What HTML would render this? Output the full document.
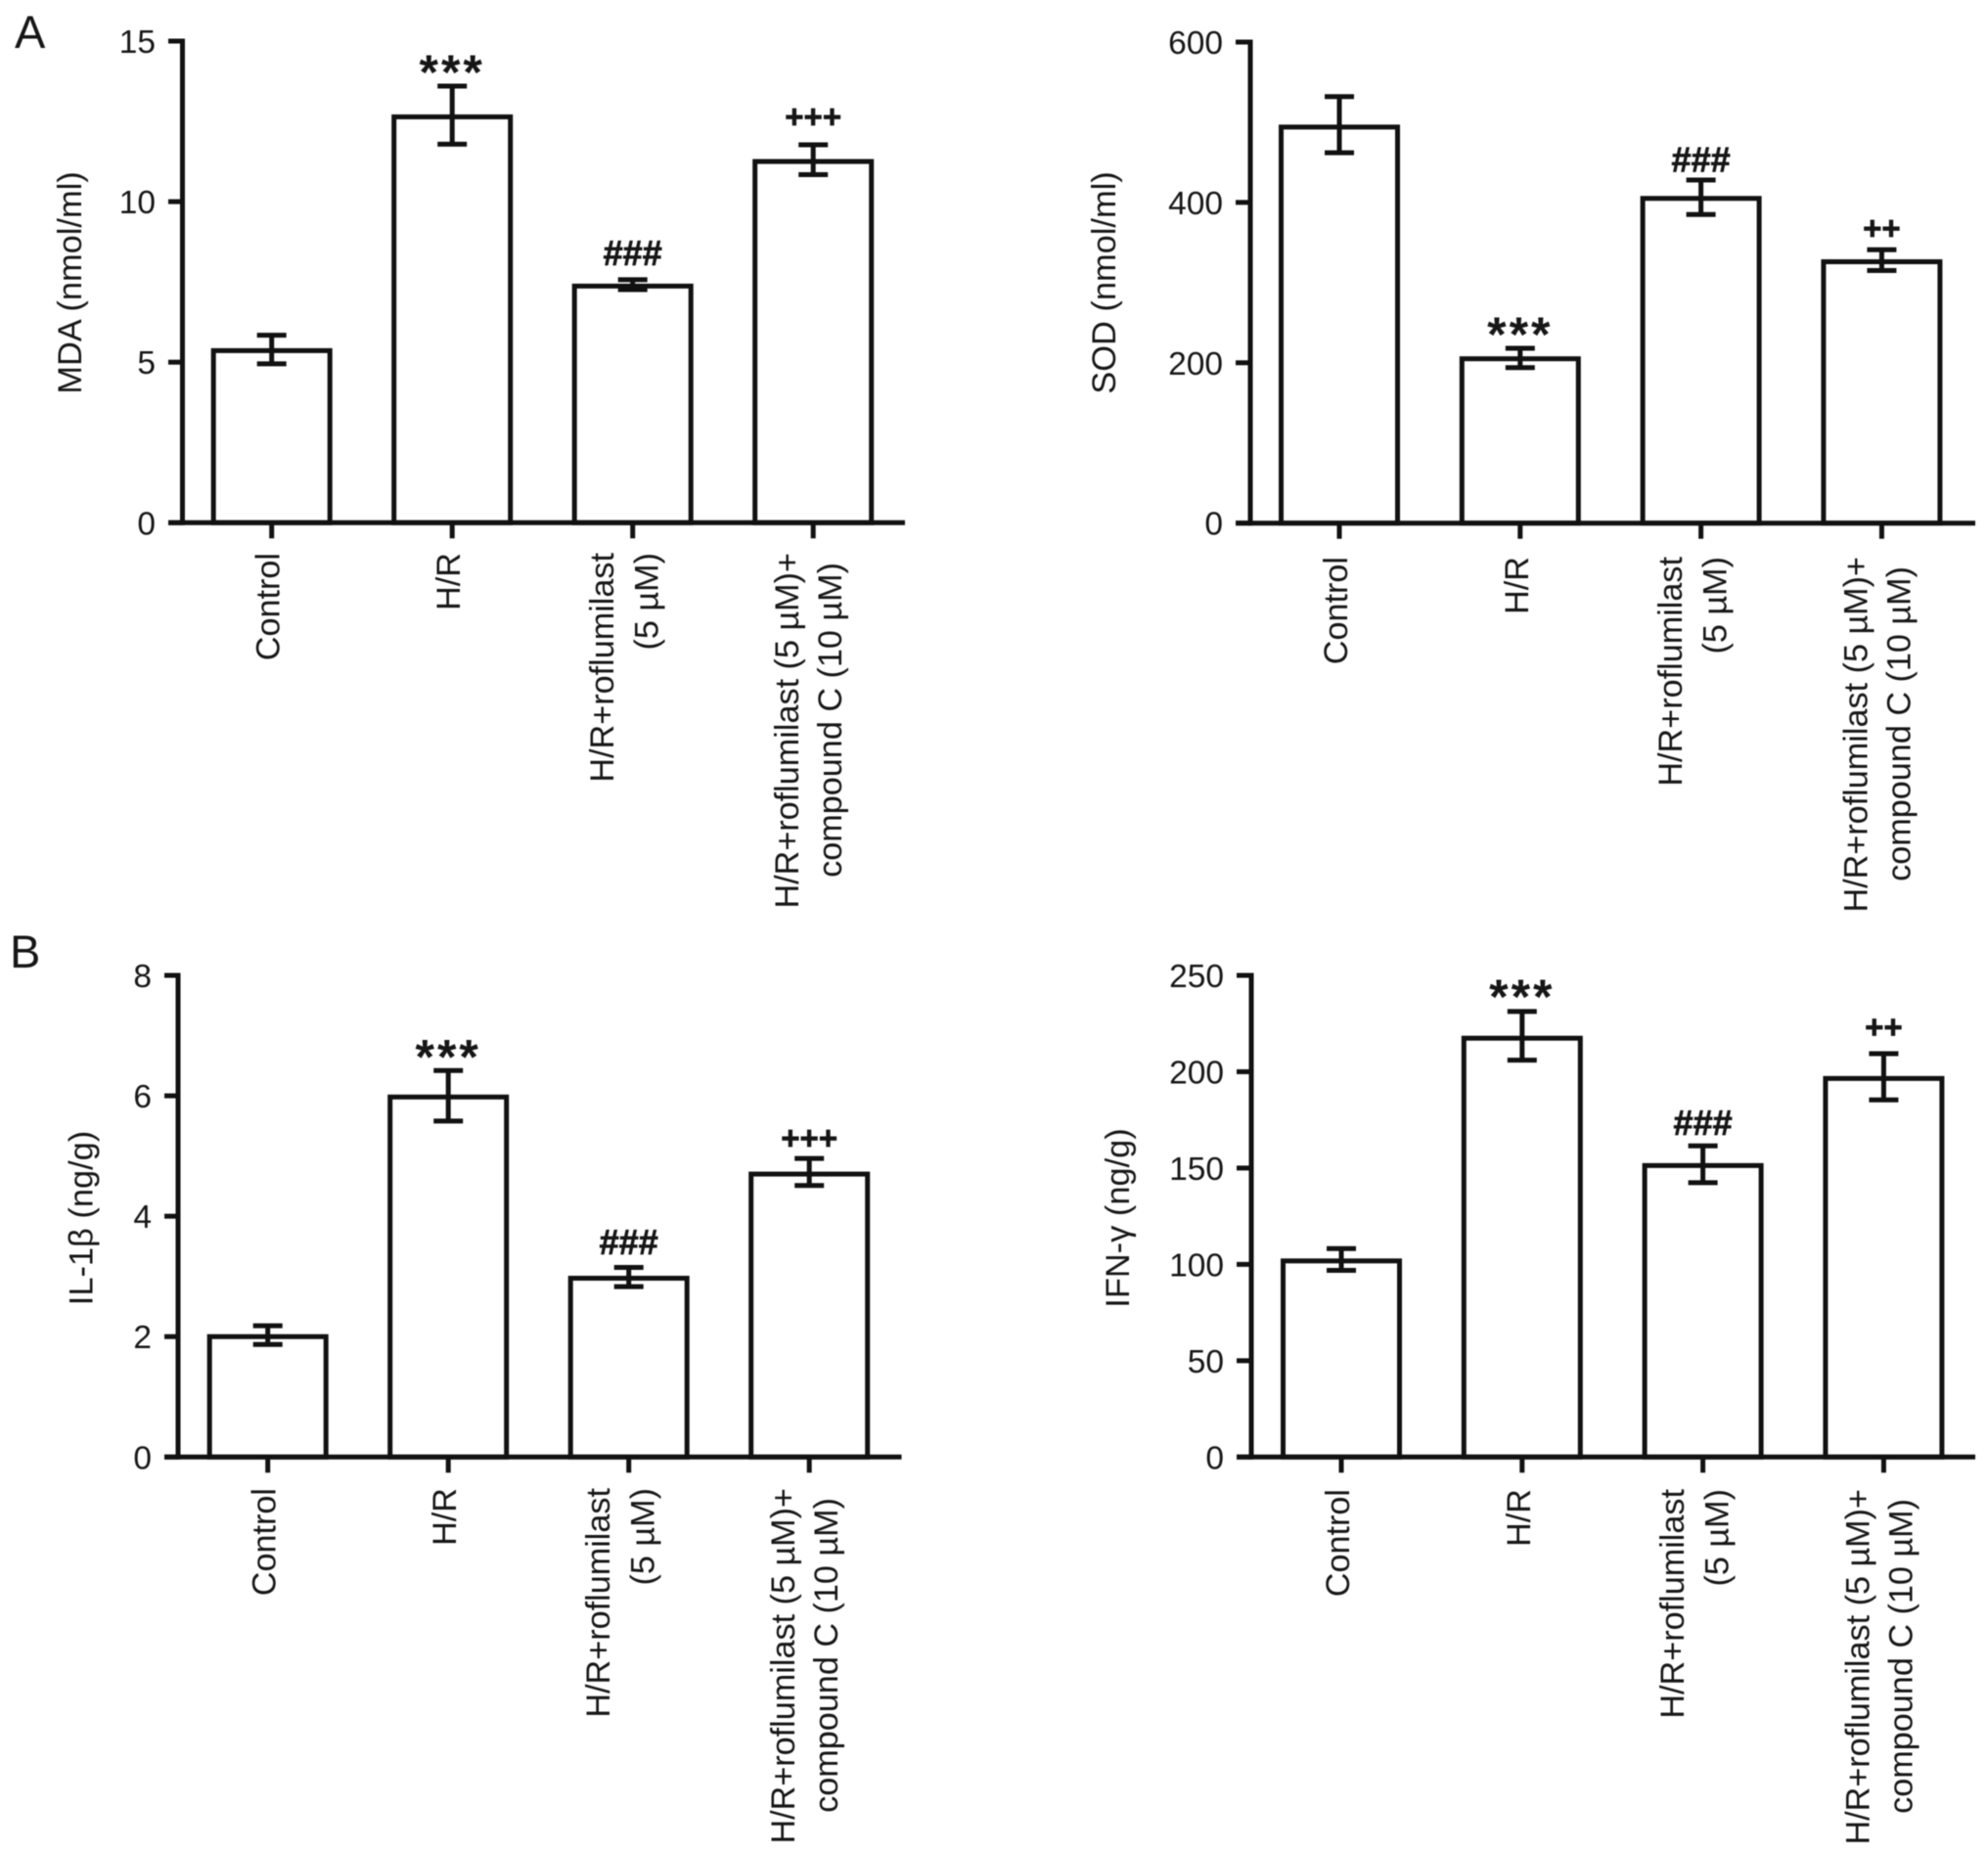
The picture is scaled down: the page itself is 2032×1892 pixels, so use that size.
<!DOCTYPE html>
<html lang="en">
<head>
<meta charset="utf-8">
<title>Oxidative stress and inflammatory markers</title>
<style>
html,body{margin:0;padding:0;background:#fff;width:2032px;height:1892px;overflow:hidden}
svg{display:block;filter:blur(0.5px)}
text{font-family:"Liberation Sans",Arial,sans-serif;fill:#161616}
</style>
</head>
<body>
<svg id="figure" xmlns="http://www.w3.org/2000/svg" width="2032" height="1892" viewBox="0 0 2032 1892">
<rect width="2032" height="1892" fill="#fff"/>
<text x="15" y="49" font-size="47">A</text>
<text x="10" y="989" font-size="47">B</text>
</svg>
<script>
const categoryLabels = [
  ["Control"],
  ["H/R"],
  ["H/R+roflumilast", "(5 µM)"],
  ["H/R+roflumilast (5 µM)+", "compound C (10 µM)"]
];

const mdaValues = [5.36, 12.64, 7.37, 11.25];
const mdaUpper = [5.84, 13.6, 7.57, 11.77];
const mdaLower = [4.95, 11.79, 7.26, 10.84];
const mdaTicks = [0, 5, 10, 15];
const mdaMarks = ["", "***", "###", "+++"];
const mdaMarkLevels = [0, 14.4, 8.39, 12.64];

const sodValues = [494, 205, 405, 326];
const sodUpper = [532, 218, 428, 341];
const sodLower = [462, 194, 385, 315];
const sodTicks = [0, 200, 400, 600];
const sodMarks = ["", "***", "###", "++"];
const sodMarkLevels = [0, 250, 453.5, 367.7];

const il1bValues = [2.0, 5.98, 2.97, 4.7];
const il1bUpper = [2.18, 6.42, 3.15, 4.96];
const il1bLower = [1.87, 5.58, 2.83, 4.51];
const il1bTicks = [0, 2, 4, 6, 8];
const il1bMarks = ["", "***", "###", "+++"];
const il1bMarkLevels = [0, 6.84, 3.57, 5.3];

const ifnValues = [101.8, 217.4, 151.3, 196.5];
const ifnUpper = [108.2, 231.3, 161.5, 209.4];
const ifnLower = [96.9, 206, 142.4, 185.4];
const ifnTicks = [0, 50, 100, 150, 200, 250];
const ifnMarks = ["", "***", "###", "++"];
const ifnMarkLevels = [0, 245, 173.4, 223.3];

const panels = [
  {id:"mda", title:"MDA (nmol/ml)", values:mdaValues, upper:mdaUpper, lower:mdaLower, ticks:mdaTicks, marks:mdaMarks, levels:mdaMarkLevels,
   axisX:186.5, yTop:42, yBottom:534.3, xLeft:172, xRight:925, first:277.7, step:184.5, titleX:83, titleY:289, labelTop:565},
  {id:"sod", title:"SOD (nmol/ml)", values:sodValues, upper:sodUpper, lower:sodLower, ticks:sodTicks, marks:sodMarks, levels:sodMarkLevels,
   axisX:1278, yTop:43, yBottom:534.7, xLeft:1263, xRight:2019, first:1369, step:184.8, titleX:1140, titleY:289, labelTop:569},
  {id:"il-1b", title:"IL-1β (ng/g)", values:il1bValues, upper:il1bUpper, lower:il1bLower, ticks:il1bTicks, marks:il1bMarks, levels:il1bMarkLevels,
   axisX:182, yTop:997, yBottom:1489.3, xLeft:168, xRight:921.5, first:273.7, step:184.5, titleX:94.5, titleY:1245, labelTop:1521},
  {id:"ifn-g", title:"IFN-γ (ng/g)", values:ifnValues, upper:ifnUpper, lower:ifnLower, ticks:ifnTicks, marks:ifnMarks, levels:ifnMarkLevels,
   axisX:1279, yTop:997, yBottom:1489.3, xLeft:1264, xRight:2019, first:1371, step:184.8, titleX:1154, titleY:1245, labelTop:1522}
];

const svgNS = "http://www.w3.org/2000/svg";
const figure = document.getElementById("figure");
const INK = "#111";
const STROKE = 5;

function line(parent, x1, y1, x2, y2, width) {
  const el = document.createElementNS(svgNS, "line");
  el.setAttribute("x1", x1);
  el.setAttribute("y1", y1);
  el.setAttribute("x2", x2);
  el.setAttribute("y2", y2);
  el.setAttribute("stroke", INK);
  el.setAttribute("stroke-width", width);
  parent.appendChild(el);
  return el;
}

function text(parent, content, x, y, size, anchor, rotate) {
  const el = document.createElementNS(svgNS, "text");
  el.textContent = content;
  el.setAttribute("x", x);
  el.setAttribute("y", y);
  el.setAttribute("font-size", size);
  el.setAttribute("text-anchor", anchor);
  if (rotate) el.setAttribute("transform", "rotate(-90 " + x + " " + y + ")");
  parent.appendChild(el);
  return el;
}

function labelOffset(category, lineIndex, lineCount) {
  if (lineCount === 1) return 8;
  if (category === 2) return lineIndex === 0 ? -19.5 : 26;
  return lineIndex === 0 ? -15 : 29;
}

function drawPanel(p) {
  const maxTick = p.ticks[p.ticks.length - 1];
  const yScale = function (v) { return p.yBottom - (v / maxTick) * (p.yBottom - p.yTop); };
  const xScale = function (i) { return p.first + i * p.step; };

  const group = document.createElementNS(svgNS, "g");
  
  
  figure.appendChild(group);

  p.values.forEach(function (v, i) {
    const bar = document.createElementNS(svgNS, "rect");
    bar.setAttribute("x", xScale(i) - 59.5);
    bar.setAttribute("y", yScale(v));
    bar.setAttribute("width", 119);
    bar.setAttribute("height", p.yBottom - yScale(v));
    bar.setAttribute("fill", "#fff");
    bar.setAttribute("stroke", INK);
    bar.setAttribute("stroke-width", STROKE);
    
    
    group.appendChild(bar);

    const stem = line(group, xScale(i), yScale(p.upper[i]), xScale(i), yScale(p.lower[i]), STROKE);
    
    
    const capTop = line(group, xScale(i) - 15, yScale(p.upper[i]), xScale(i) + 15, yScale(p.upper[i]), STROKE);
    
    
    const capBottom = line(group, xScale(i) - 15, yScale(p.lower[i]), xScale(i) + 15, yScale(p.lower[i]), STROKE);
    
    

    if (p.marks[i]) {
      const mark = p.marks[i];
      const isStar = mark[0] === "*";
      const size = isStar ? 50 : (mark[0] === "#" ? 36 : 33);
      const drop = isStar ? 0.585 * size : 0.34 * size;
      const markText = text(group, mark, xScale(i), yScale(p.levels[i]) + drop, size, "middle", false);
      markText.setAttribute("font-weight", "bold");
      markText.setAttribute("stroke", "#161616");
      markText.setAttribute("stroke-width", isStar ? 0 : 0.7);
      if (isStar) markText.setAttribute("letter-spacing", "3");
      
      
    }

    const tick = line(group, xScale(i), p.yBottom, xScale(i), p.yBottom + 16, STROKE);
    
    

    const lines = categoryLabels[i];
    lines.forEach(function (content, j) {
      const base = xScale(i) + labelOffset(i, j, lines.length);
      const indent = (i === 3 && j === 1) ? 10 : 0;
      const label = text(group, content, base, p.labelTop + indent, 34.2, "end", true);
      
      
    });
  });

  const yAxis = line(group, p.axisX, p.yTop - 2.5, p.axisX, p.yBottom + 2.5, STROKE);
  
  
  const xAxis = line(group, p.xLeft, p.yBottom, p.xRight, p.yBottom, STROKE);
  
  

  p.ticks.forEach(function (t, i) {
    const tick = line(group, p.xLeft, yScale(t), p.axisX, yScale(t), STROKE);
    
    
    const label = text(group, String(t), p.xLeft - 13, yScale(t) + 12, 33.5, "end", false);
    
    
  });

  const title = text(group, p.title, p.titleX, p.titleY, 34.4, "middle", true);
  
  
}

panels.forEach(drawPanel);
</script>
</body>
</html>
